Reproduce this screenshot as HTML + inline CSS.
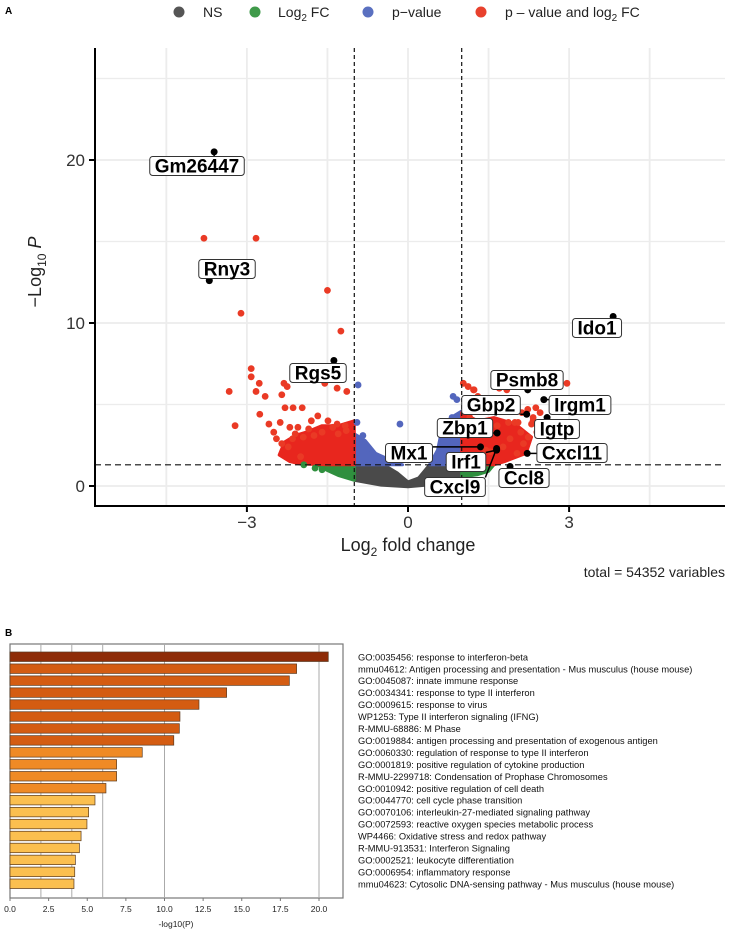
<!DOCTYPE html>
<html><head><meta charset="utf-8"><style>
body{margin:0;background:#fff;width:747px;height:931px;overflow:hidden;font-family:"Liberation Sans",sans-serif}
svg{display:block}
</style></head><body>
<svg id="s" width="747" height="931" xmlns="http://www.w3.org/2000/svg" font-family="Liberation Sans, sans-serif">
<text x="5" y="14" font-size="10" font-weight="bold">A</text>
<text x="5" y="636" font-size="10" font-weight="bold">B</text>
<g font-size="14" fill="#222">
<circle cx="179" cy="12" r="5.5" fill="#555"/><text x="203" y="17">NS</text>
<circle cx="255" cy="12" r="5.5" fill="#3f9a4a"/><text x="278" y="17">Log<tspan font-size="10" dy="4">2</tspan><tspan dy="-4"> FC</tspan></text>
<circle cx="368" cy="12" r="5.5" fill="#5a70c0"/><text x="392" y="17">p−value</text>
<circle cx="481" cy="12" r="5.5" fill="#e8412d"/><text x="505" y="17">p – value and log<tspan font-size="10" dy="4">2</tspan><tspan dy="-4"> FC</tspan></text>
</g>
<g id="volcano"></g>
<g id="bars"></g>
</svg>
<script>
// ---- Volcano data ----
const xTicks=[-3,0,3];
const yTicks=[0,10,20];
const redX=[-3.11,-1.25,-2.92,-2.92,-2.77,-2.31,-2.25,-3.33,-2.83,-2.66,-2.35,-1.55,-1.32,-1.14,-2.29,-2.14,-1.97,-2.76,-3.22,-2.59,-2.38,-1.68,-1.49,-1.32,-1.17,-2.2,-2.05,-2.35,-2.23,-2.0,-3.8,-2.83,-1.5,1.03,1.12,1.22,1.84,2.96,2.38,1.87,2.05,2.24,1.15,2.15,2.03,1.77,2.33,2.46,2.12,1.66,1.23,1.99,2.23,2.33,1.53,1.4,1.3,1.6,1.7,-2.45,-2.5,-2.1,-1.85,-1.75,-1.6,-1.4,-1.3,-1.15,-2.15,-1.95,-1.8,2.4,2.5,2.3,1.9,2.1,1.45,1.25,2.6,2.7];
const redY=[10.6,9.5,7.2,6.7,6.3,6.3,6.1,5.8,5.8,5.5,5.6,6.3,6.0,5.8,4.8,4.8,4.8,4.4,3.7,3.8,3.9,4.3,4.0,3.8,3.7,3.6,3.6,2.6,2.4,1.8,15.2,15.2,12.0,6.3,6.1,5.9,5.9,6.3,4.8,3.9,3.9,3.0,4.2,2.6,2.0,2.4,4.0,4.5,4.5,3.7,5.9,3.9,4.7,4.2,2.1,5.0,5.5,5.0,6.0,2.9,3.3,3.2,3.5,3.1,3.3,3.6,3.2,3.4,2.9,3.0,4.0,3.3,3.6,3.8,2.9,3.3,2.2,3.6,3.4,3.2];
const blueX=[-0.93,-0.95,-0.84,-0.15,0.84,0.91,0.82,0.91,-0.9,-0.75,0.7,0.65];
const blueY=[6.2,3.9,3.1,3.8,5.5,5.3,4.2,4.2,2.7,2.3,3.6,2.9];
const greenX=[-1.73,-1.94,-1.6];
const greenY=[1.1,1.3,1.0];
const redLeftPoly=[[-2.4,1.9],[-2.3,2.7],[-2.1,3.1],[-1.9,3.3],[-1.6,3.7],[-1.3,3.7],[-1.0,4.0],[-1.0,1.3],[-1.5,1.3],[-2.0,1.35],[-2.2,1.5]];
const redRightPoly=[[1,1.3],[1,4.5],[1.3,4.0],[1.6,4.2],[2.0,3.8],[2.3,3.0],[2.2,2.0],[1.8,1.5],[1.6,1.3]];
const blueLeftPoly=[[-1,1.3],[-1,3.2],[-0.8,2.8],[-0.6,2.0],[-0.4,1.7],[-0.2,1.4],[-0.1,1.3]];
const blueRightPoly=[[0.4,1.3],[0.55,2.2],[0.6,3.0],[0.75,3.3],[0.85,4.3],[1,4.6],[1,1.3]];
const greenLeftPoly=[[-1.7,1.3],[-1,1.3],[-1,0.35],[-1.3,0.65],[-1.5,0.95]];
const greenRightPoly=[[1,1.3],[1.6,1.3],[1.5,0.9],[1.3,0.7],[1,0.55]];
const greyPoly=[[-1,1.3],[-0.45,1.3],[-0.2,0.8],[0,0.25],[0.2,0.5],[0.4,1.3],[1,1.3],[1,0.55],[0.5,0.1],[0,-0.05],[-0.5,0.05],[-1,0.35]];
const genes=["Gm26447","Rny3","Ido1","Rgs5","Psmb8","Irgm1","Gbp2","Igtp","Zbp1","Cxcl11","Ccl8","Cxcl9","Irf1","Mx1"];
const geneX=[-3.61,-3.7,3.82,-1.38,2.23,2.53,2.21,2.59,1.66,2.22,1.9,1.65,1.65,1.35];
const geneY=[20.5,12.6,10.4,7.7,5.9,5.3,4.4,4.2,3.25,2.0,1.2,2.3,2.2,2.4];
// label box centers in pixel layout (text placement, not data)
const labCX=[197,227,597,318,527,580,491,557,465,572,524,455,466,409];
const labCY=[166,269,328,373,380,405,405,429,428,453,478,487,462,453];

const X=v=>408+53.7*v, Y=v=>486-16.3*v;
const NS="http://www.w3.org/2000/svg";
function mk(t,a,p){const e=document.createElementNS(NS,t);for(const k in a)e.setAttribute(k,a[k]);p.appendChild(e);return e;}
const V=document.getElementById('volcano');
[5,15,25].forEach(v=>{const l=mk('line',{x1:95,x2:725,y1:Y(v),y2:Y(v),stroke:'#ececec','stroke-width':1.2},V);});
[0,10,20].forEach(v=>{const l=mk('line',{x1:95,x2:725,y1:Y(v),y2:Y(v),stroke:'#ececec','stroke-width':1.8},V);});
[-4.5,-3,-1.5,0,1.5,3,4.5].forEach(v=>{const l=mk('line',{x1:X(v),x2:X(v),y1:48,y2:506,stroke:'#ececec','stroke-width':1.8},V);});
function poly(arr,fill,name){const p=mk('polygon',{points:arr.map(d=>X(d[0])+','+Y(d[1])).join(' '),fill:fill,stroke:fill,'stroke-width':3,'stroke-linejoin':'round'},V);}
poly(greyPoly,'#4a4a4a','ns-cloud');
poly(greenLeftPoly,'#2f8f3e','log2fc-cloud-left');
poly(greenRightPoly,'#2f8f3e','log2fc-cloud-right');
poly(blueLeftPoly,'#5366bd','pvalue-cloud-left');
poly(blueRightPoly,'#5366bd','pvalue-cloud-right');
poly(redLeftPoly,'#e8261e','sig-cloud-left');
poly(redRightPoly,'#e8261e','sig-cloud-right');
function pts(xs,ys,fill,name){xs.forEach((x,i)=>{const c=mk('circle',{cx:X(x),cy:Y(ys[i]),r:3.4,fill:fill},V);});}
pts(greenX,greenY,'#2f8f3e','log2fc-point');
pts(blueX,blueY,'#5366bd','pvalue-point');
pts(redX,redY,'#ea3a25','sig-point');
[-1,1].forEach(v=>{const l=mk('line',{x1:X(v),x2:X(v),y1:48,y2:506,stroke:'#111','stroke-width':1.2,'stroke-dasharray':'4,3'},V);});
{const l=mk('line',{x1:95,x2:725,y1:Y(1.3),y2:Y(1.3),stroke:'#111','stroke-width':1.2,'stroke-dasharray':'6,4'},V);}
genes.forEach((g,i)=>{const px=X(geneX[i]),py=Y(geneY[i]);
 const cx=labCX[i],cy=labCY[i];
 const gg=mk('g',{},V);
 const ln=mk('line',{stroke:'#000','stroke-width':1.5},gg);
 const d=mk('circle',{cx:px,cy:py,r:3.5,fill:'#000'},gg);
 const r=mk('rect',{rx:3,fill:'#fff',stroke:'#333','stroke-width':1},gg);
 const t=mk('text',{x:cx,y:cy+6.5,'text-anchor':'middle','font-size':19,'font-weight':'bold'},gg);t.textContent=g;
 const w=t.getComputedTextLength()+10,h=19;
 r.setAttribute('x',cx-w/2);r.setAttribute('y',cy-h/2);r.setAttribute('width',w);r.setAttribute('height',h);
 ln.setAttribute('x1',px);ln.setAttribute('y1',py);ln.setAttribute('x2',Math.max(cx-w/2,Math.min(cx+w/2,px)));ln.setAttribute('y2',Math.max(cy-h/2,Math.min(cy+h/2,py)));
});
{const a=mk('line',{x1:95,x2:95,y1:48,y2:507,stroke:'#000','stroke-width':2},V);
 const b=mk('line',{x1:94,x2:725,y1:506,y2:506,stroke:'#000','stroke-width':2},V);}
yTicks.forEach(v=>{const l=mk('line',{x1:89,x2:95,y1:Y(v),y2:Y(v),stroke:'#000','stroke-width':2},V);
 const t=mk('text',{x:85,y:Y(v)+6,'text-anchor':'end','font-size':17,fill:'#333'},V);t.textContent=v;});
xTicks.forEach(v=>{const l=mk('line',{x1:X(v),x2:X(v),y1:506,y2:512,stroke:'#000','stroke-width':2},V);
 const t=mk('text',{x:X(v),y:528,'text-anchor':'middle','font-size':17,fill:'#333'},V);t.textContent=v<0?'−'+(-v):v;});
{const t=mk('text',{x:408,y:551,'text-anchor':'middle','font-size':18,fill:'#222'},V);t.innerHTML='Log<tspan font-size="12" dy="5">2</tspan><tspan dy="-5"> fold change</tspan>';
 const y=mk('text',{x:0,y:0,transform:'translate(41,272) rotate(-90)','text-anchor':'middle','font-size':18,fill:'#222'},V);y.innerHTML='−Log<tspan font-size="12" dy="5">10</tspan><tspan dy="-5" font-style="italic"> P</tspan>';
 const c=mk('text',{x:725,y:577,'text-anchor':'end','font-size':14,fill:'#222'},V);c.textContent='total = 54352 variables';}

// ---- Bar chart data ----
const terms=["GO:0035456: response to interferon-beta","mmu04612: Antigen processing and presentation - Mus musculus (house mouse)","GO:0045087: innate immune response","GO:0034341: response to type II interferon","GO:0009615: response to virus","WP1253: Type II interferon signaling (IFNG)","R-MMU-68886: M Phase","GO:0019884: antigen processing and presentation of exogenous antigen","GO:0060330: regulation of response to type II interferon","GO:0001819: positive regulation of cytokine production","R-MMU-2299718: Condensation of Prophase Chromosomes","GO:0010942: positive regulation of cell death","GO:0044770: cell cycle phase transition","GO:0070106: interleukin-27-mediated signaling pathway","GO:0072593: reactive oxygen species metabolic process","WP4466: Oxidative stress and redox pathway","R-MMU-913531: Interferon Signaling","GO:0002521: leukocyte differentiation","GO:0006954: inflammatory response","mmu04623: Cytosolic DNA-sensing pathway - Mus musculus (house mouse)"];
const logP=[20.6,18.55,18.08,14.02,12.23,11.0,10.96,10.6,8.56,6.9,6.9,6.21,5.5,5.09,4.98,4.6,4.49,4.23,4.19,4.14];
const bTicks=[0,2.5,5,7.5,10,12.5,15,17.5,20];
const bGrid=[2,4,6,10,20];
const B=document.getElementById('bars');
const BX=v=>10+15.45*v, rowY=i=>652+i*11.95;
{const f=mk('rect',{x:10,y:644,width:333,height:254,fill:'#fff',stroke:'#777','stroke-width':1.2},B);}
bGrid.forEach(v=>{const l=mk('line',{x1:BX(v),x2:BX(v),y1:644,y2:898,stroke:'#aaa','stroke-width':1},B);});
function col(v){return v>=20?'#8e2c07':v>=10?'#d45c12':v>=6?'#ef8a25':'#fbbf4f';}
logP.forEach((v,i)=>{const r=mk('rect',{x:10,y:rowY(i),width:BX(v)-10,height:9.5,fill:col(v),stroke:'#5a3a20','stroke-width':0.7},B);
 const t=mk('text',{x:358,y:rowY(i)+8.3,'font-size':9.3,fill:'#111'},B);t.textContent=terms[i];});
bTicks.forEach(v=>{const l=mk('line',{x1:BX(v),x2:BX(v),y1:898,y2:901,stroke:'#777'},B);
 const t=mk('text',{x:BX(v),y:912,'text-anchor':'middle','font-size':8.5,fill:'#222'},B);t.textContent=v.toFixed(1);});
{const t=mk('text',{x:176,y:927,'text-anchor':'middle','font-size':8.5,fill:'#222'},B);t.textContent='-log10(P)';}
</script>
</body></html>
